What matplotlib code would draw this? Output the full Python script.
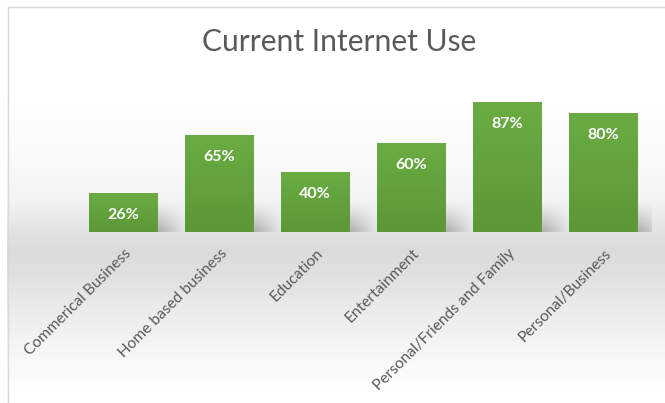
import numpy as np
import matplotlib
matplotlib.use("Agg")
import matplotlib.pyplot as plt
from matplotlib.patches import Rectangle
from matplotlib.transforms import ScaledTranslation
from matplotlib.colors import to_rgb

# ---- data ----
categories = ["Commerical Business", "Home based business", "Education",
              "Entertainment", "Personal/Friends and Family", "Personal/Business"]
values = [26, 65, 40, 60, 87, 80]
labels = ["26%", "65%", "40%", "60%", "87%", "80%"]
title = "Current Internet Use"

plt.rcParams['font.family'] = ['Lato', 'DejaVu Sans']
W, H, DPI = 665, 403, 100
fig = plt.figure(figsize=(W / DPI, H / DPI), dpi=DPI)

# ---- background gradient ----
bg = fig.add_axes([0, 0, 1, 1], zorder=-10)
bg.set_axis_off()
ypx = np.arange(H)
prof_y = [0, 90, 150, 200, 232, 250, 275, 310, 350, 385, 403]
prof_v = [1.0, 1.0, 0.985, 0.955, 0.89, 0.86, 0.88, 0.925, 0.965, 0.995, 1.0]
g = np.interp(ypx, prof_y, prof_v)
img = np.repeat(g[:, None], W, axis=1)
bg.imshow(np.dstack([img, img, img]), extent=[0, 1, 0, 1], aspect='auto',
          transform=bg.transAxes, interpolation='bilinear')
bg.set_xlim(0, 1)
bg.set_ylim(0, 1)
bg.add_patch(Rectangle((0, 0), 7 / W, 1, transform=bg.transAxes,
                       facecolor='white', edgecolor='none', zorder=2))
bg.add_patch(Rectangle((0, 1 - 6 / H), 1, 6 / H, transform=bg.transAxes,
                       facecolor='white', edgecolor='none', zorder=2))
bg.plot([7.5 / W, 7.5 / W], [0, 1 - 6.5 / H], color='#d9d9d9', lw=1,
        transform=bg.transAxes, zorder=3)
bg.plot([7.5 / W, 1], [1 - 6.5 / H, 1 - 6.5 / H], color='#d9d9d9', lw=1,
        transform=bg.transAxes, zorder=3)

# ---- main axes ----
ax = fig.add_axes([75 / W, (H - 232) / H, 576 / W, 149 / H])
ax.patch.set_alpha(0)
x = np.arange(len(categories))
bars = ax.bar(x, values, width=0.71, color='#64a33c', zorder=3)
ax.set_xlim(-0.5, len(categories) - 0.5)
ax.set_ylim(0, 100)

top_c = np.array(to_rgb('#6bac42'))
bot_c = np.array(to_rgb('#5b9836'))
grad = np.linspace(0, 1, 100)[:, None]
bar_img = top_c[None, None, :] * (1 - grad[:, :, None]) + bot_c[None, None, :] * grad[:, :, None]
bar_img = np.repeat(bar_img, 2, axis=1)

for b in bars:
    bx, bw, bh = b.get_x(), b.get_width(), b.get_height()
    im = ax.imshow(bar_img, extent=[bx, bx + bw, 0, bh], aspect='auto',
                   zorder=4, interpolation='bilinear')
    im.set_clip_path(b)
    # soft shadow to the right of the bar base
    sh_w = bw + 0.22
    nx, ny = 60, 40
    xs = np.linspace(0, 1, nx)[None, :]
    ys = np.linspace(1, 0, ny)[:, None]
    ax_alpha = np.clip((1 - xs) / 0.25, 0, 1) * np.clip(xs / 0.2, 0, 1)
    ay_alpha = np.clip((1 - ys) / 0.9, 0, 1) ** 1.5
    alpha = 0.4 * ax_alpha * ay_alpha
    sh = np.zeros((ny, nx, 4))
    sh[..., :3] = 0.45
    sh[..., 3] = alpha
    ax.imshow(sh, extent=[bx + 0.05, bx + 0.05 + sh_w, 0, min(22, bh)],
              aspect='auto', zorder=2, interpolation='bilinear')

for xi, v, lab in zip(x, values, labels):
    ax.annotate(lab, (xi, v), xytext=(0, -22), textcoords='offset pixels',
                ha='center', va='center', color='white', fontsize=11.5,
                fontweight='bold', zorder=6)

ax.set_xticks(x)
ax.set_xticklabels(categories, rotation=45, ha='right', va='center',
                   rotation_mode='anchor', fontsize=11.2, color='#595959')
ax.tick_params(axis='x', length=0, pad=14)
ax.set_yticks([])
for s in ax.spines.values():
    s.set_visible(False)
off = ScaledTranslation(6 / DPI, 0, fig.dpi_scale_trans)
for t in ax.get_xticklabels():
    t.set_transform(t.get_transform() + off)

fig.text(339 / W, 1 - 42 / H, title, ha='center', va='center',
         fontsize=21.6, color='#595959')

fig.savefig("out.png", dpi=DPI)
